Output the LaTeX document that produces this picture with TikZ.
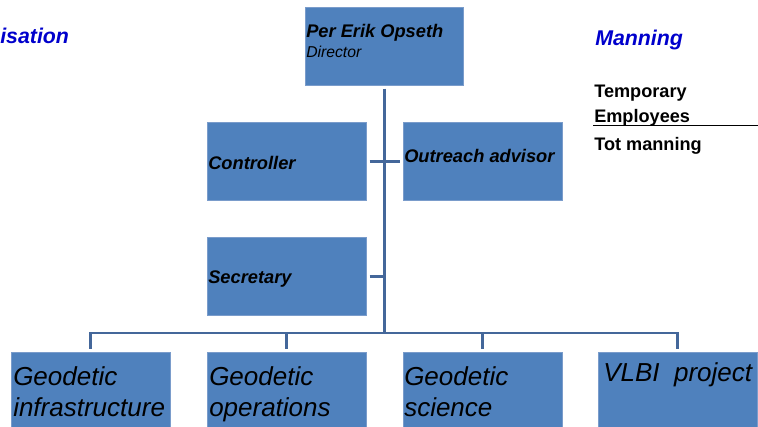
\documentclass[tikz,border=0pt]{standalone}
\usepackage{fontspec}
\setmainfont{Liberation Sans}
\usepackage{tikz}
\usetikzlibrary{calc}

\definecolor{boxblue}{HTML}{4F81BD}
\definecolor{boxedge}{HTML}{7A9CCB}
\definecolor{linkblue}{HTML}{44679A}
\definecolor{headblue}{HTML}{0000CC}

\tikzset{
  unit/.style={draw=boxedge, fill=boxblue, line width=0.4pt, inner sep=0pt,
    anchor=north west, minimum width=119.25pt, minimum height=58.5pt},
  conn/.style={draw=linkblue, line width=2.2pt},
  head/.style={font=\fontsize{16}{19}\selectfont\bfseries\itshape, text=headblue,
    anchor=base west, inner sep=0pt},
  role/.style={font=\fontsize{13.7}{16}\selectfont\bfseries\itshape,
    anchor=base west, inner sep=0pt},
  dept/.style={font=\fontsize{19.5}{23.25}\selectfont\itshape, align=left,
    anchor=north west, inner sep=0pt},
  count/.style={font=\fontsize{13.6}{16}\selectfont\bfseries, anchor=base west, inner sep=0pt}
}

\begin{document}
\begin{tikzpicture}[x=0.75pt,y=-0.75pt]

\useasboundingbox (0,0) rectangle (758,426);
\clip (0,0) rectangle (758,426);

% headings
\node[head] (org) at (0,43) {isation};
\node[head] (man) at (595,45) {Manning};

% manning table
\node[count] (tmp) at (594,97) {Temporary};
\node[count] (emp) at (594,122) {Employees};
\node[count] (tot) at (594,150) {Tot manning};
\draw[line width=0.75pt] (593,125.5) -- (758,125.5);

% boxes
\node[unit, minimum width=118.5pt] (dir) at (305,7) {};
\node[unit] (ctrl) at (207,122) {};
\node[unit] (outr) at (403,122) {};
\node[unit] (sec) at (207,237) {};
\node[unit] (b1) at (11,352) {};
\node[unit] (b2) at (207,352) {};
\node[unit] (b3) at (403,352) {};
\node[unit] (b4) at (598,352) {};

% texts in the boxes
\node[role] (dirname) at (306,37) {Per Erik Opseth};
\node[anchor=base west, inner sep=0pt, font=\fontsize{11.8}{14}\selectfont\itshape] (dirrole) at (306,57) {Director};
\node[role] (ctrltxt) at (208,169) {Controller};
\node[role] (outrtxt) at (404,162) {Outreach advisor};
\node[role] (sectxt) at (208,283) {Secretary};

\node[dept] (b1txt) at (13,366) {Geodetic\\infrastructure};
\node[dept] (b2txt) at (209,366) {Geodetic\\operations};
\node[dept] (b3txt) at (404,366) {Geodetic\\science};
\node[dept] (b4txt) at (603,362) {VLBI\ \ project};

% connectors
\coordinate (bus) at (dir.south |- 0,333);
\draw[conn, shorten <=2.25pt] (dir.south) -- (bus);
\draw[conn, shorten <=2.25pt, shorten >=2.25pt] (ctrl.east) -- (outr.west);
\draw[conn, shorten <=2.25pt] (sec.east) -- (sec.east -| bus);
\foreach \b in {b1,b2,b3,b4}
  \draw[conn, shorten >=2.25pt] (bus) -| (\b.north);

\end{tikzpicture}
\end{document}
